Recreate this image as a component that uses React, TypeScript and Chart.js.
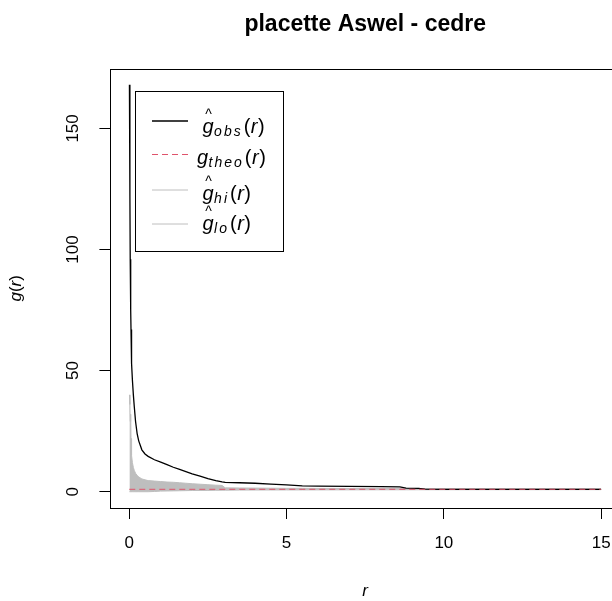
import React, { useEffect, useRef } from "react";
import { Chart, registerables } from "chart.js";

Chart.register(...registerables);

const chartTitle = "placette Aswel - cedre";
const xAxisTitle = "r";

// distance r
const rValues = [
  0.005, 0.02, 0.03, 0.045, 0.055, 0.065, 0.08, 0.1, 0.13, 0.16, 0.2, 0.25, 0.3, 0.4, 0.5, 0.6,
  0.8, 1.0, 1.2, 1.4, 1.6, 1.8, 2.0, 2.25, 2.5, 2.75, 2.95, 3.05, 3.5, 4.0, 4.5, 5.0, 5.5,
  6.0, 7.0, 8.0, 8.6, 8.8, 9.2, 9.4, 10, 11, 12, 13, 14, 15,
];
// observed g(r)
const obsValues = [
  168, 122, 96, 75, 67, 60, 53, 46, 40, 35, 29, 24, 21, 17.3, 15.6, 14.6,
  13.2, 12.2, 11.2, 10.1, 9.2, 8.3, 7.4, 6.4, 5.4, 4.6, 4.1, 3.9, 3.7, 3.5, 3.1, 2.8, 2.4,
  2.3, 2.2, 2.1, 2.0, 1.5, 1.4, 1.05, 1.0, 0.98, 1.0, 0.98, 1.0, 0.98,
];
// upper envelope
const hiValues = [
  40, 36, 29, 32, 22, 18, 15, 12, 10, 8.8, 7.6, 6.8, 6.1, 5.3, 4.9, 4.6,
  4.4, 4.2, 4.0, 3.9, 3.7, 3.5, 3.3, 3.1, 2.9, 2.7, 2.6, 1.6, 1.55, 1.5, 1.45, 1.4, 1.4,
  1.35, 1.33, 1.3, 1.28, 1.28, 1.27, 1.27, 1.25, 1.24, 1.22, 1.21, 1.2, 1.2,
];
// lower envelope
const loValues = [
  0, 0, 0, 0, 0, 0, 0, 0, 0, 0, 0, 0, 0, 0, 0, 0,
  0.1, 0.25, 0.3, 0.35, 0.4, 0.45, 0.5, 0.52, 0.55, 0.6, 0.62, 0.64, 0.68, 0.7, 0.72, 0.74, 0.75,
  0.76, 0.78, 0.8, 0.8, 0.8, 0.81, 0.81, 0.82, 0.83, 0.84, 0.84, 0.85, 0.85,
];
// theoretical (Poisson) g(r)
const theoR = [0, 15];
const theoValues = [1, 1];

const xTicks = [0, 5, 10, 15];
const yTicks = [0, 50, 100, 150];
const legendSubs = ["obs", "theo", "hi", "lo"];
const legendHats = [true, false, true, true];

const FONT = '"Liberation Sans", Arial, sans-serif';
const GREY = "#bebebe";
const THEO_COLOR = "#DF536B";

const toPoints = (xs: number[], ys: number[]) => xs.map((x, i) => ({ x, y: ys[i] }));

const decorPlugin = {
  id: "decor",
  afterDraw(chart: any) {
    const ctx = chart.ctx as CanvasRenderingContext2D;
    const a = chart.chartArea;
    ctx.save();
    // plot box
    ctx.strokeStyle = "#000";
    ctx.lineWidth = 1;
    const l = Math.round(a.left) + 0.5;
    const t = Math.round(a.top) + 0.5;
    const r = Math.round(a.right) + 0.5;
    const b = Math.round(a.bottom) + 0.5;
    ctx.strokeRect(l, t, r - l, b - t);

    // title
    ctx.fillStyle = "#000";
    ctx.textBaseline = "alphabetic";
    ctx.textAlign = "center";
    ctx.font = `bold 23px ${FONT}`;
    ctx.fillText(chartTitle, (a.left + a.right) / 2, 31);

    // x title
    ctx.font = `italic 17px ${FONT}`;
    ctx.fillText(xAxisTitle, (a.left + a.right) / 2, 596);

    // y title g(r), rotated
    ctx.save();
    ctx.translate(20.5, (a.top + a.bottom) / 2);
    ctx.rotate(-Math.PI / 2);
    ctx.textAlign = "left";
    const parts: [string, string][] = [
      ["g", `italic 17px ${FONT}`],
      ["(", `17px ${FONT}`],
      ["r", `italic 17px ${FONT}`],
      [")", `17px ${FONT}`],
    ];
    let total = 0;
    for (const [s, f] of parts) {
      ctx.font = f;
      total += ctx.measureText(s).width;
    }
    let px = -total / 2;
    for (const [s, f] of parts) {
      ctx.font = f;
      ctx.fillText(s, px, 0);
      px += ctx.measureText(s).width;
    }
    ctx.restore();

    // legend
    const lx = 135.5, ly = 91.5, lw = 148, lh = 160;
    ctx.fillStyle = "#fff";
    ctx.fillRect(lx, ly, lw, lh);
    ctx.strokeStyle = "#000";
    ctx.lineWidth = 1;
    ctx.strokeRect(lx, ly, lw, lh);

    const lineYs = [121, 154.5, 190, 224];
    const baseYs = [133, 163.5, 199.5, 230];
    const textXs = [202.5, 197, 202.5, 202.5];
    const styles = [
      { c: "#000", w: 1.3, d: [] as number[] },
      { c: THEO_COLOR, w: 1, d: [6, 4] },
      { c: GREY, w: 1, d: [] as number[] },
      { c: GREY, w: 1, d: [] as number[] },
    ];
    for (let i = 0; i < legendSubs.length; i++) {
      const st = styles[i];
      ctx.beginPath();
      ctx.strokeStyle = st.c;
      ctx.lineWidth = st.w;
      ctx.setLineDash(st.d);
      ctx.moveTo(152, lineYs[i]);
      ctx.lineTo(188, lineYs[i]);
      ctx.stroke();
      ctx.setLineDash([]);

      ctx.fillStyle = "#000";
      ctx.textAlign = "left";
      let x = textXs[i];
      const by = baseYs[i];
      ctx.font = `italic 20px ${FONT}`;
      ctx.fillText("g", x, by);
      const gw = ctx.measureText("g").width;
      if (legendHats[i]) {
        ctx.font = `14px ${FONT}`;
        ctx.textAlign = "center";
        ctx.fillText("^", x + gw / 2 + 0.5, by - 14);
        ctx.textAlign = "left";
      }
      x += gw + 0.5;
      ctx.font = `italic 14px ${FONT}`;
      (ctx as any).letterSpacing = "2px";
      ctx.fillText(legendSubs[i], x, by + 3);
      x += ctx.measureText(legendSubs[i]).width + 1;
      (ctx as any).letterSpacing = "0px";
      ctx.font = `20px ${FONT}`;
      ctx.fillText("(", x, by);
      x += ctx.measureText("(").width + 0.5;
      ctx.font = `italic 20px ${FONT}`;
      ctx.fillText("r", x, by);
      x += ctx.measureText("r").width + 0.5;
      ctx.font = `20px ${FONT}`;
      ctx.fillText(")", x, by);
    }
    ctx.restore();
  },
};

export default function App() {
  const canvasRef = useRef<HTMLCanvasElement | null>(null);

  useEffect(() => {
    if (!canvasRef.current) return;
    const chart = new Chart(canvasRef.current, {
      type: "line",
      data: {
        datasets: [
          {
            label: "theo",
            data: toPoints(theoR, theoValues),
            borderColor: THEO_COLOR,
            borderWidth: 1,
            borderDash: [6, 4],
            pointRadius: 0,
            fill: false,
            order: 0,
          },
          {
            label: "obs",
            data: toPoints(rValues, obsValues),
            borderColor: "#000",
            borderWidth: 1.3,
            pointRadius: 0,
            fill: false,
            order: 1,
          },
          {
            label: "hi",
            data: toPoints(rValues, hiValues),
            borderColor: GREY,
            backgroundColor: GREY,
            borderWidth: 1,
            pointRadius: 0,
            fill: "+1",
            order: 2,
          },
          {
            label: "lo",
            data: toPoints(rValues, loValues),
            borderColor: GREY,
            borderWidth: 1,
            pointRadius: 0,
            fill: false,
            order: 3,
          },
        ],
      } as any,
      options: {
        animation: false,
        responsive: false,
        devicePixelRatio: 1,
        events: [],
        layout: { padding: { top: 68.6, right: 20, left: 0, bottom: 0 } },
        plugins: {
          legend: { display: false },
          tooltip: { enabled: false },
          title: { display: false },
        },
        scales: {
          x: {
            type: "linear",
            min: -0.6,
            max: 15.6,
            afterBuildTicks: (s: any) => {
              s.ticks = xTicks.map((v) => ({ value: v }));
            },
            afterFit: (s: any) => {
              s.height = 93;
            },
            ticks: {
              autoSkip: false,
              maxRotation: 0,
              minRotation: 0,
              padding: 14.5,
              color: "#000",
              font: { family: FONT, size: 17 },
            },
            grid: { drawOnChartArea: false, drawTicks: true, tickLength: 11, color: "#000" },
            border: { display: false },
          },
          y: {
            type: "linear",
            min: -6.72,
            max: 174.7,
            afterBuildTicks: (s: any) => {
              s.ticks = yTicks.map((v) => ({ value: v }));
            },
            afterFit: (s: any) => {
              s.width = 110.4;
            },
            ticks: {
              autoSkip: false,
              minRotation: 90,
              maxRotation: 90,
              crossAlign: "center",
              padding: 12.2,
              color: "#000",
              font: { family: FONT, size: 17 },
            },
            grid: { drawOnChartArea: false, drawTicks: true, tickLength: 11, color: "#000" },
            border: { display: false },
          },
        },
      } as any,
      plugins: [decorPlugin],
    });
    return () => chart.destroy();
  }, []);

  return (
    <div
      style={{
        position: "fixed",
        left: 0,
        top: 0,
        width: 612,
        height: 601,
        overflow: "hidden",
        background: "#fff",
      }}
    >
      <canvas ref={canvasRef} width={640} height={601} style={{ display: "block", width: 640, height: 601 }} />
    </div>
  );
}
